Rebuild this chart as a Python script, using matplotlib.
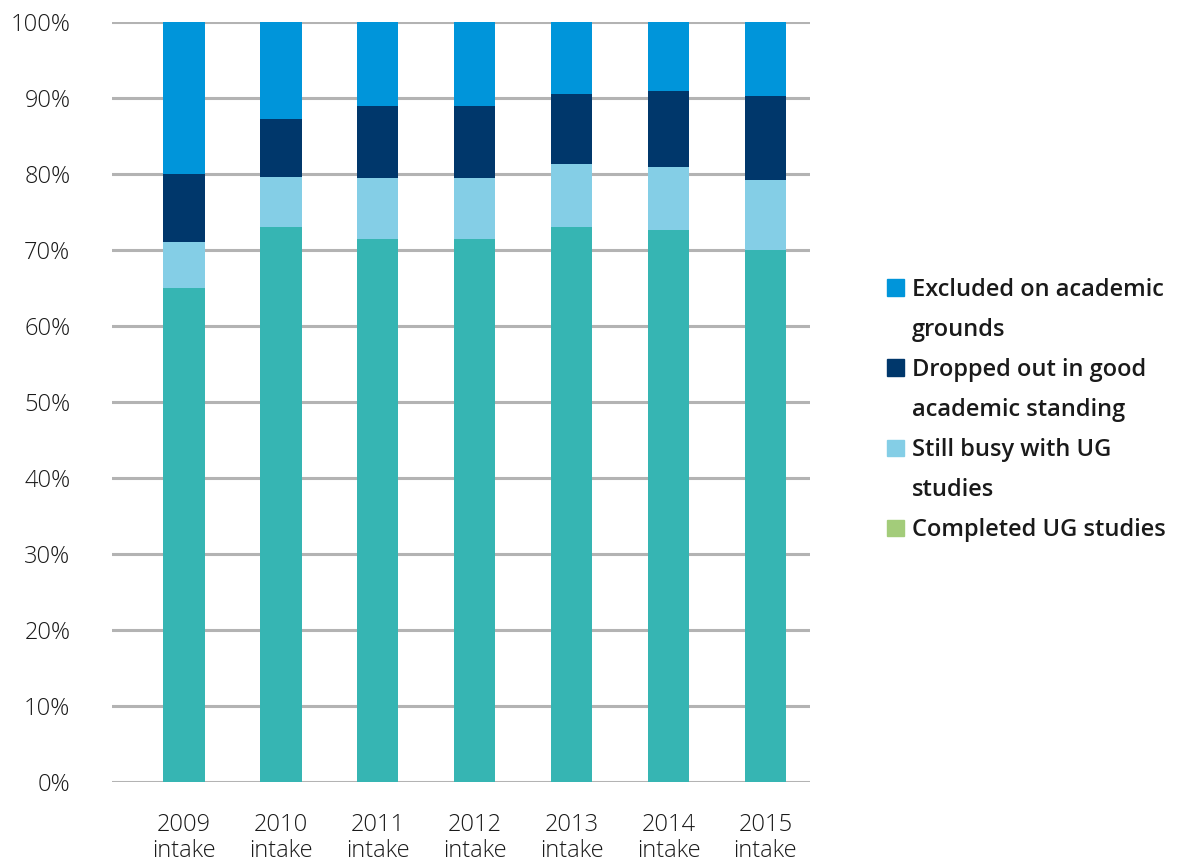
import numpy as np
import matplotlib.pyplot as plt
from matplotlib.patches import Patch

plt.rcParams['font.family'] = ['Open Sans', 'DejaVu Sans']

intakes = ['2009\nintake', '2010\nintake', '2011\nintake', '2012\nintake',
           '2013\nintake', '2014\nintake', '2015\nintake']
completed = [65.0, 73.0, 71.4, 71.4, 73.0, 72.6, 70.0]
still_busy = [6.1, 6.6, 8.1, 8.1, 8.3, 8.3, 9.2]
dropped_out = [8.9, 7.6, 9.4, 9.4, 9.2, 10.0, 11.1]
excluded = [20.0, 12.8, 11.2, 11.2, 9.5, 9.1, 9.7]

c_excl = '#0095DA'
c_drop = '#00376B'
c_busy = '#84CEE6'
c_comp = '#36B5B3'
c_comp_legend = '#A3CC7A'

fig = plt.figure(figsize=(11.87, 8.61), dpi=100)
ax = fig.add_axes([112 / 1187, 1 - 782 / 861, (810 - 112) / 1187, (782 - 22) / 861])

x = np.arange(len(intakes))
w = 0.43
bottom = np.zeros(len(x))
for vals, col in [(completed, c_comp), (still_busy, c_busy),
                  (dropped_out, c_drop), (excluded, c_excl)]:
    ax.bar(x, vals, w, bottom=bottom, color=col, zorder=3)
    bottom += np.array(vals)

ax.set_xlim(-0.74, 6.46)
ax.set_ylim(0, 100)
ax.set_yticks(np.arange(0, 101, 10))
ax.set_yticklabels([f'{v}%' for v in range(0, 101, 10)])
ax.yaxis.grid(True, color='#b3b3b3', linewidth=2.2, zorder=0)
ax.set_axisbelow(True)
for s in ax.spines.values():
    s.set_visible(False)
ax.set_xticks(x)
ax.set_xticklabels(intakes, linespacing=1.15)
ax.tick_params(axis='both', length=0, labelsize=17, colors='#1a1a1a')
ax.tick_params(axis='y', pad=30)
ax.tick_params(axis='x', pad=22)
for t in ax.get_xticklabels() + ax.get_yticklabels():
    t.set_fontweight('light')

# legend: wrapped labels as separate rows, continuation rows get no swatch
blank = Patch(color='none')
handles = [Patch(color=c_excl), blank, Patch(color=c_drop), blank,
           Patch(color=c_busy), blank, Patch(color=c_comp_legend)]
labels = ['Excluded on academic', 'grounds', 'Dropped out in good',
          'academic standing', 'Still busy with UG', 'studies',
          'Completed UG studies']
leg = fig.legend(handles, labels, loc='center left',
                 bbox_to_anchor=(866 / 1187, 1 - 410 / 861), frameon=False,
                 prop={'size': 17, 'weight': 'semibold'}, handlelength=0.7,
                 handleheight=0.7, handletextpad=0.35, labelspacing=0.68)
for t in leg.get_texts():
    t.set_color('#1a1a1a')

fig.savefig('out.png', dpi=100)
